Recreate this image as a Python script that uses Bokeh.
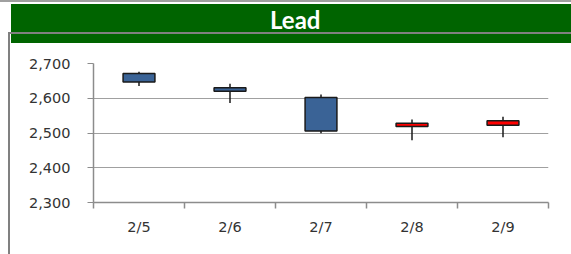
from bokeh.plotting import figure
from bokeh.models import ColumnDataSource, Range1d, FixedTicker, NumeralTickFormatter, Div
from bokeh.layouts import column
from bokeh.embed import file_html
from bokeh.resources import INLINE

# ---- data ----
dates = ["2/5", "2/6", "2/7", "2/8", "2/9"]
open_ = [2671, 2630, 2602, 2519, 2522]
close = [2647, 2620, 2506, 2528, 2535]
high = [2676, 2642, 2611, 2539, 2547]
low = [2635, 2586, 2499, 2479, 2488]
y_ticks = [2300, 2400, 2500, 2600, 2700]
title = "Lead"

UP = "#ff0000"
DOWN = "#3a6396"

xs = list(range(len(dates)))
src = ColumnDataSource(dict(
    x=xs,
    high=high,
    low=low,
    top=[max(o, c) for o, c in zip(open_, close)],
    bottom=[min(o, c) for o, c in zip(open_, close)],
    color=[UP if c > o else DOWN for o, c in zip(open_, close)],
))

p = figure(width=571, height=211,
           x_range=Range1d(-0.5, len(dates) - 0.5),
           y_range=Range1d(y_ticks[0], y_ticks[-1]),
           output_backend="svg", toolbar_location=None,
           min_border_left=93, min_border_right=23,
           min_border_top=20, min_border_bottom=52)
p.margin = 0
p.outline_line_color = None
p.border_fill_color = None
p.background_fill_color = "white"
p.styles = {"background": "linear-gradient(to right, #ffffff 0px, #ffffff 8px, #808080 8px, #808080 10px, #ffffff 10px)"}

p.xgrid.visible = False
p.ygrid.grid_line_color = "#a0a0a0"
p.ygrid.grid_line_width = 1

# y axis
p.yaxis.ticker = FixedTicker(ticks=y_ticks)
p.yaxis.formatter = NumeralTickFormatter(format="0,0")
p.yaxis.axis_line_color = "#8c8c8c"
p.yaxis.axis_line_width = 1.5
p.yaxis.major_tick_line_color = "#8c8c8c"
p.yaxis.major_tick_out = 6
p.yaxis.major_tick_in = 0
p.yaxis.major_label_standoff = 17
p.yaxis.major_label_text_font = "DejaVu Sans"
p.yaxis.major_label_text_font_size = "14.5px"
p.yaxis.major_label_text_color = "#333333"

# x axis: labels at category centers, ticks at category boundaries
p.xaxis.ticker = FixedTicker(ticks=xs, minor_ticks=[i - 0.5 for i in range(len(dates) + 1)])
p.xaxis.major_label_overrides = {i: d for i, d in enumerate(dates)}
p.xaxis.axis_line_color = "#8c8c8c"
p.xaxis.axis_line_width = 1.5
p.xaxis.major_tick_line_color = None
p.xaxis.major_tick_out = 0
p.xaxis.major_tick_in = 0
p.xaxis.minor_tick_line_color = "#8c8c8c"
p.xaxis.minor_tick_line_width = 1.5
p.xaxis.minor_tick_out = 6
p.xaxis.minor_tick_in = 0
p.xaxis.major_label_standoff = 10
p.xaxis.major_label_text_font = "DejaVu Sans"
p.xaxis.major_label_text_font_size = "14.5px"
p.xaxis.major_label_text_color = "#333333"

p.segment(x0="x", y0="high", x1="x", y1="low", source=src,
          line_color="#1a1a1a", line_width=1.5)
p.vbar(x="x", width=0.35, top="top", bottom="bottom", source=src,
       fill_color="color", line_color="#1a1a1a", line_width=1.5)

banner_html = (
    '<div style="position:relative;width:571px;height:43px;background:#ffffff;overflow:visible;">'
    '<div style="position:absolute;left:0px;top:0px;width:571px;height:2px;background:#a0a0a0;"></div>'
    '<div style="position:absolute;left:11px;top:4px;width:560px;height:39px;background:#006400;"></div>'
    '<div style="position:absolute;left:8px;top:32px;width:563px;height:2px;background:#808080;"></div>'
    '<div style="position:absolute;left:8px;top:32px;width:2px;height:11px;background:#808080;"></div>'
    '<div style="position:absolute;left:270px;top:8px;white-space:nowrap;'
    'color:#ffffff;font-family:Lato;font-weight:bold;font-size:24px;line-height:24px;">'
    + title + '</div></div>'
)
banner = Div(text=banner_html, width=571, height=43, margin=0)

layout = column(banner, p, spacing=0, margin=0)

open("out.html", "w").write(file_html(layout, INLINE))
